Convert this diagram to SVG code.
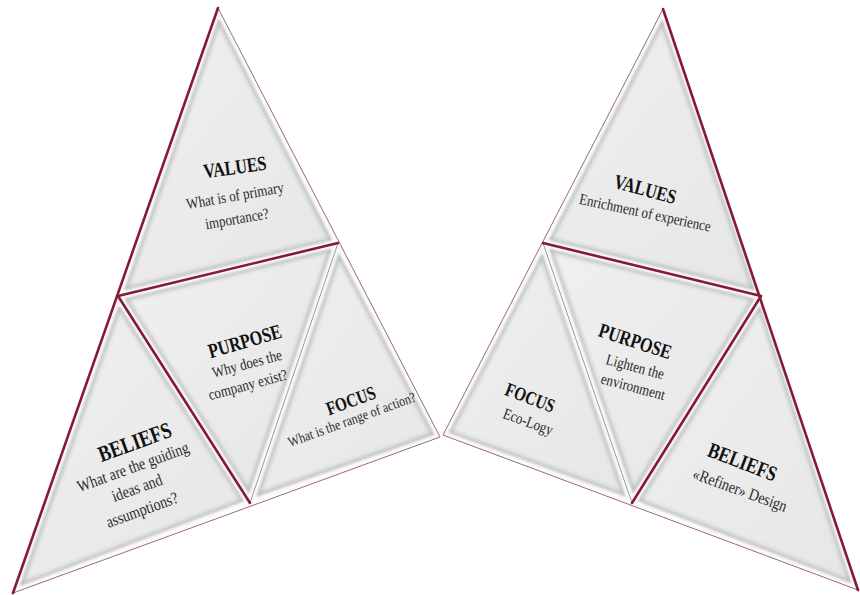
<svg xmlns="http://www.w3.org/2000/svg" xmlns:xlink="http://www.w3.org/1999/xlink" width="860" height="595" viewBox="0 0 860 595">
<style>
.face{fill:url(#faceGrad);stroke:none}
.bevS{fill:none;stroke:#b9bbbb;stroke-width:13;filter:url(#soft)}
.bevH{fill:none;stroke:#f9f9f9;stroke-width:8;filter:url(#soft2)}
.rim{fill:none;stroke:#ffffff;stroke-width:2}
.red{fill:none;stroke:#861a36;stroke-width:2.6;stroke-linecap:round;stroke-linejoin:round}
.thin{fill:none;stroke:#9c6a76;stroke-width:1;stroke-linejoin:round}
.grey{fill:none;stroke:#8d8d8d;stroke-width:0.9}
.t{font-family:"Liberation Serif","Times New Roman",serif;font-weight:bold;fill:#111;text-anchor:middle}
.s{font-family:"Liberation Serif","Times New Roman",serif;fill:#2a2a2a;text-anchor:middle}
</style>
<defs>
<linearGradient id="faceGrad" x1="0" y1="0" x2="1" y2="1">
<stop offset="0" stop-color="#f0f0f0"/>
<stop offset="1" stop-color="#e6e6e6"/>
</linearGradient>
<filter id="soft" x="-10%" y="-10%" width="120%" height="120%"><feGaussianBlur stdDeviation="2"/></filter>
<filter id="soft2" x="-10%" y="-10%" width="120%" height="120%"><feGaussianBlur stdDeviation="0.8"/></filter>
<polygon id="pLV" points="218,8 118,296 338,243"/>
<polygon id="pLP" points="118,296 338,243 250,503"/>
<polygon id="pLB" points="118,296 13,593 250,503"/>
<polygon id="pLF" points="338,243 250,503 440,437"/>
<polygon id="pRV" points="663,9 543,243 761,296"/>
<polygon id="pRP" points="543,243 761,296 632,503"/>
<polygon id="pRF" points="543,243 443,435 632,503"/>
<polygon id="pRB" points="761,296 632,503 858,590"/>
<clipPath id="cLV"><use xlink:href="#pLV"/></clipPath>
<clipPath id="cLP"><use xlink:href="#pLP"/></clipPath>
<clipPath id="cLB"><use xlink:href="#pLB"/></clipPath>
<clipPath id="cLF"><use xlink:href="#pLF"/></clipPath>
<clipPath id="cRV"><use xlink:href="#pRV"/></clipPath>
<clipPath id="cRP"><use xlink:href="#pRP"/></clipPath>
<clipPath id="cRF"><use xlink:href="#pRF"/></clipPath>
<clipPath id="cRB"><use xlink:href="#pRB"/></clipPath>
</defs>
<rect width="860" height="595" fill="#ffffff"/>

<g id="left-values">
<use xlink:href="#pLV" class="face"/>
<g clip-path="url(#cLV)"><use xlink:href="#pLV" class="bevS"/><use xlink:href="#pLV" class="bevH"/><use xlink:href="#pLV" class="rim"/></g>
<text class="t" font-size="17" transform="translate(235,168) rotate(-8) scale(0.95,1.2)" y="5">VALUES</text>
<text class="s" font-size="13" transform="translate(235,196) rotate(-10) scale(1,1.2)" y="4">What is of primary</text>
<text class="s" font-size="13" transform="translate(237,219) rotate(-10) scale(1,1.2)" y="4">importance?</text>
</g>

<g id="left-purpose">
<use xlink:href="#pLP" class="face"/>
<g clip-path="url(#cLP)"><use xlink:href="#pLP" class="bevS"/><use xlink:href="#pLP" class="bevH"/><use xlink:href="#pLP" class="rim"/></g>
<text class="t" font-size="17" transform="translate(245,342) rotate(-16) scale(0.95,1.2)" y="5">PURPOSE</text>
<text class="s" font-size="13" transform="translate(247,364) rotate(-15) scale(1,1.2)" y="4">Why does the</text>
<text class="s" font-size="13" transform="translate(248,385) rotate(-15) scale(1,1.2)" y="4">company exist?</text>
</g>

<g id="left-beliefs">
<use xlink:href="#pLB" class="face"/>
<g clip-path="url(#cLB)"><use xlink:href="#pLB" class="bevS"/><use xlink:href="#pLB" class="bevH"/><use xlink:href="#pLB" class="rim"/></g>
<text class="t" font-size="19" transform="translate(135,443) rotate(-20) scale(0.95,1.2)" y="5.5">BELIEFS</text>
<text class="s" font-size="14" transform="translate(133,467) rotate(-20) scale(1,1.2)" y="4.5">What are the guiding</text>
<text class="s" font-size="14" transform="translate(137,488) rotate(-20) scale(1,1.2)" y="4.5">ideas and</text>
<text class="s" font-size="14" transform="translate(142,510) rotate(-20) scale(1,1.2)" y="4.5">assumptions?</text>
</g>

<g id="left-focus">
<use xlink:href="#pLF" class="face"/>
<g clip-path="url(#cLF)"><use xlink:href="#pLF" class="bevS"/><use xlink:href="#pLF" class="bevH"/><use xlink:href="#pLF" class="rim"/></g>
<text class="t" font-size="16" transform="translate(351,401) rotate(-20) scale(0.95,1.2)" y="5">FOCUS</text>
<text class="s" font-size="12" transform="translate(352,420) rotate(-20) scale(1,1.2)" y="3.5">What is the range of action?</text>
</g>

<g id="right-values">
<use xlink:href="#pRV" class="face"/>
<g clip-path="url(#cRV)"><use xlink:href="#pRV" class="bevS"/><use xlink:href="#pRV" class="bevH"/><use xlink:href="#pRV" class="rim"/></g>
<text class="t" font-size="17" transform="translate(645,190) rotate(15) scale(0.95,1.2)" y="5">VALUES</text>
<text class="s" font-size="13" transform="translate(645,213) rotate(12) scale(1,1.2)" y="4">Enrichment of experience</text>
</g>

<g id="right-purpose">
<use xlink:href="#pRP" class="face"/>
<g clip-path="url(#cRP)"><use xlink:href="#pRP" class="bevS"/><use xlink:href="#pRP" class="bevH"/><use xlink:href="#pRP" class="rim"/></g>
<text class="t" font-size="17" transform="translate(635,342) rotate(18) scale(0.95,1.2)" y="5">PURPOSE</text>
<text class="s" font-size="13" transform="translate(635,367) rotate(15) scale(1,1.2)" y="4">Lighten the</text>
<text class="s" font-size="13" transform="translate(633,387) rotate(15) scale(1,1.2)" y="4">environment</text>
</g>

<g id="right-focus">
<use xlink:href="#pRF" class="face"/>
<g clip-path="url(#cRF)"><use xlink:href="#pRF" class="bevS"/><use xlink:href="#pRF" class="bevH"/><use xlink:href="#pRF" class="rim"/></g>
<text class="t" font-size="16" transform="translate(530,398) rotate(21) scale(0.95,1.2)" y="5">FOCUS</text>
<text class="s" font-size="13" transform="translate(528,422) rotate(20) scale(1,1.2)" y="4">Eco-Logy</text>
</g>

<g id="right-beliefs">
<use xlink:href="#pRB" class="face"/>
<g clip-path="url(#cRB)"><use xlink:href="#pRB" class="bevS"/><use xlink:href="#pRB" class="bevH"/><use xlink:href="#pRB" class="rim"/></g>
<text class="t" font-size="18" transform="translate(742,463) rotate(21) scale(0.95,1.2)" y="5">BELIEFS</text>
<text class="s" font-size="14" transform="translate(740,490) rotate(20) scale(1,1.2)" y="4.5">«Refiner» Design</text>
</g>

<g id="edges">
<polyline class="thin" points="218,8 440,437 13,593"/>
<line class="grey" x1="338" y1="243" x2="250" y2="503"/>
<polyline class="red" points="218,8 13,593"/>
<line class="red" x1="118" y1="296" x2="338" y2="243"/>
<line class="red" x1="118" y1="296" x2="250" y2="503"/>
<polyline class="thin" points="663,9 443,435 858,590"/>
<line class="grey" x1="543" y1="243" x2="632" y2="503"/>
<line class="red" x1="663" y1="9" x2="858" y2="590"/>
<line class="red" x1="543" y1="243" x2="761" y2="296"/>
<line class="red" x1="761" y1="296" x2="632" y2="503"/>
</g>
</svg>
